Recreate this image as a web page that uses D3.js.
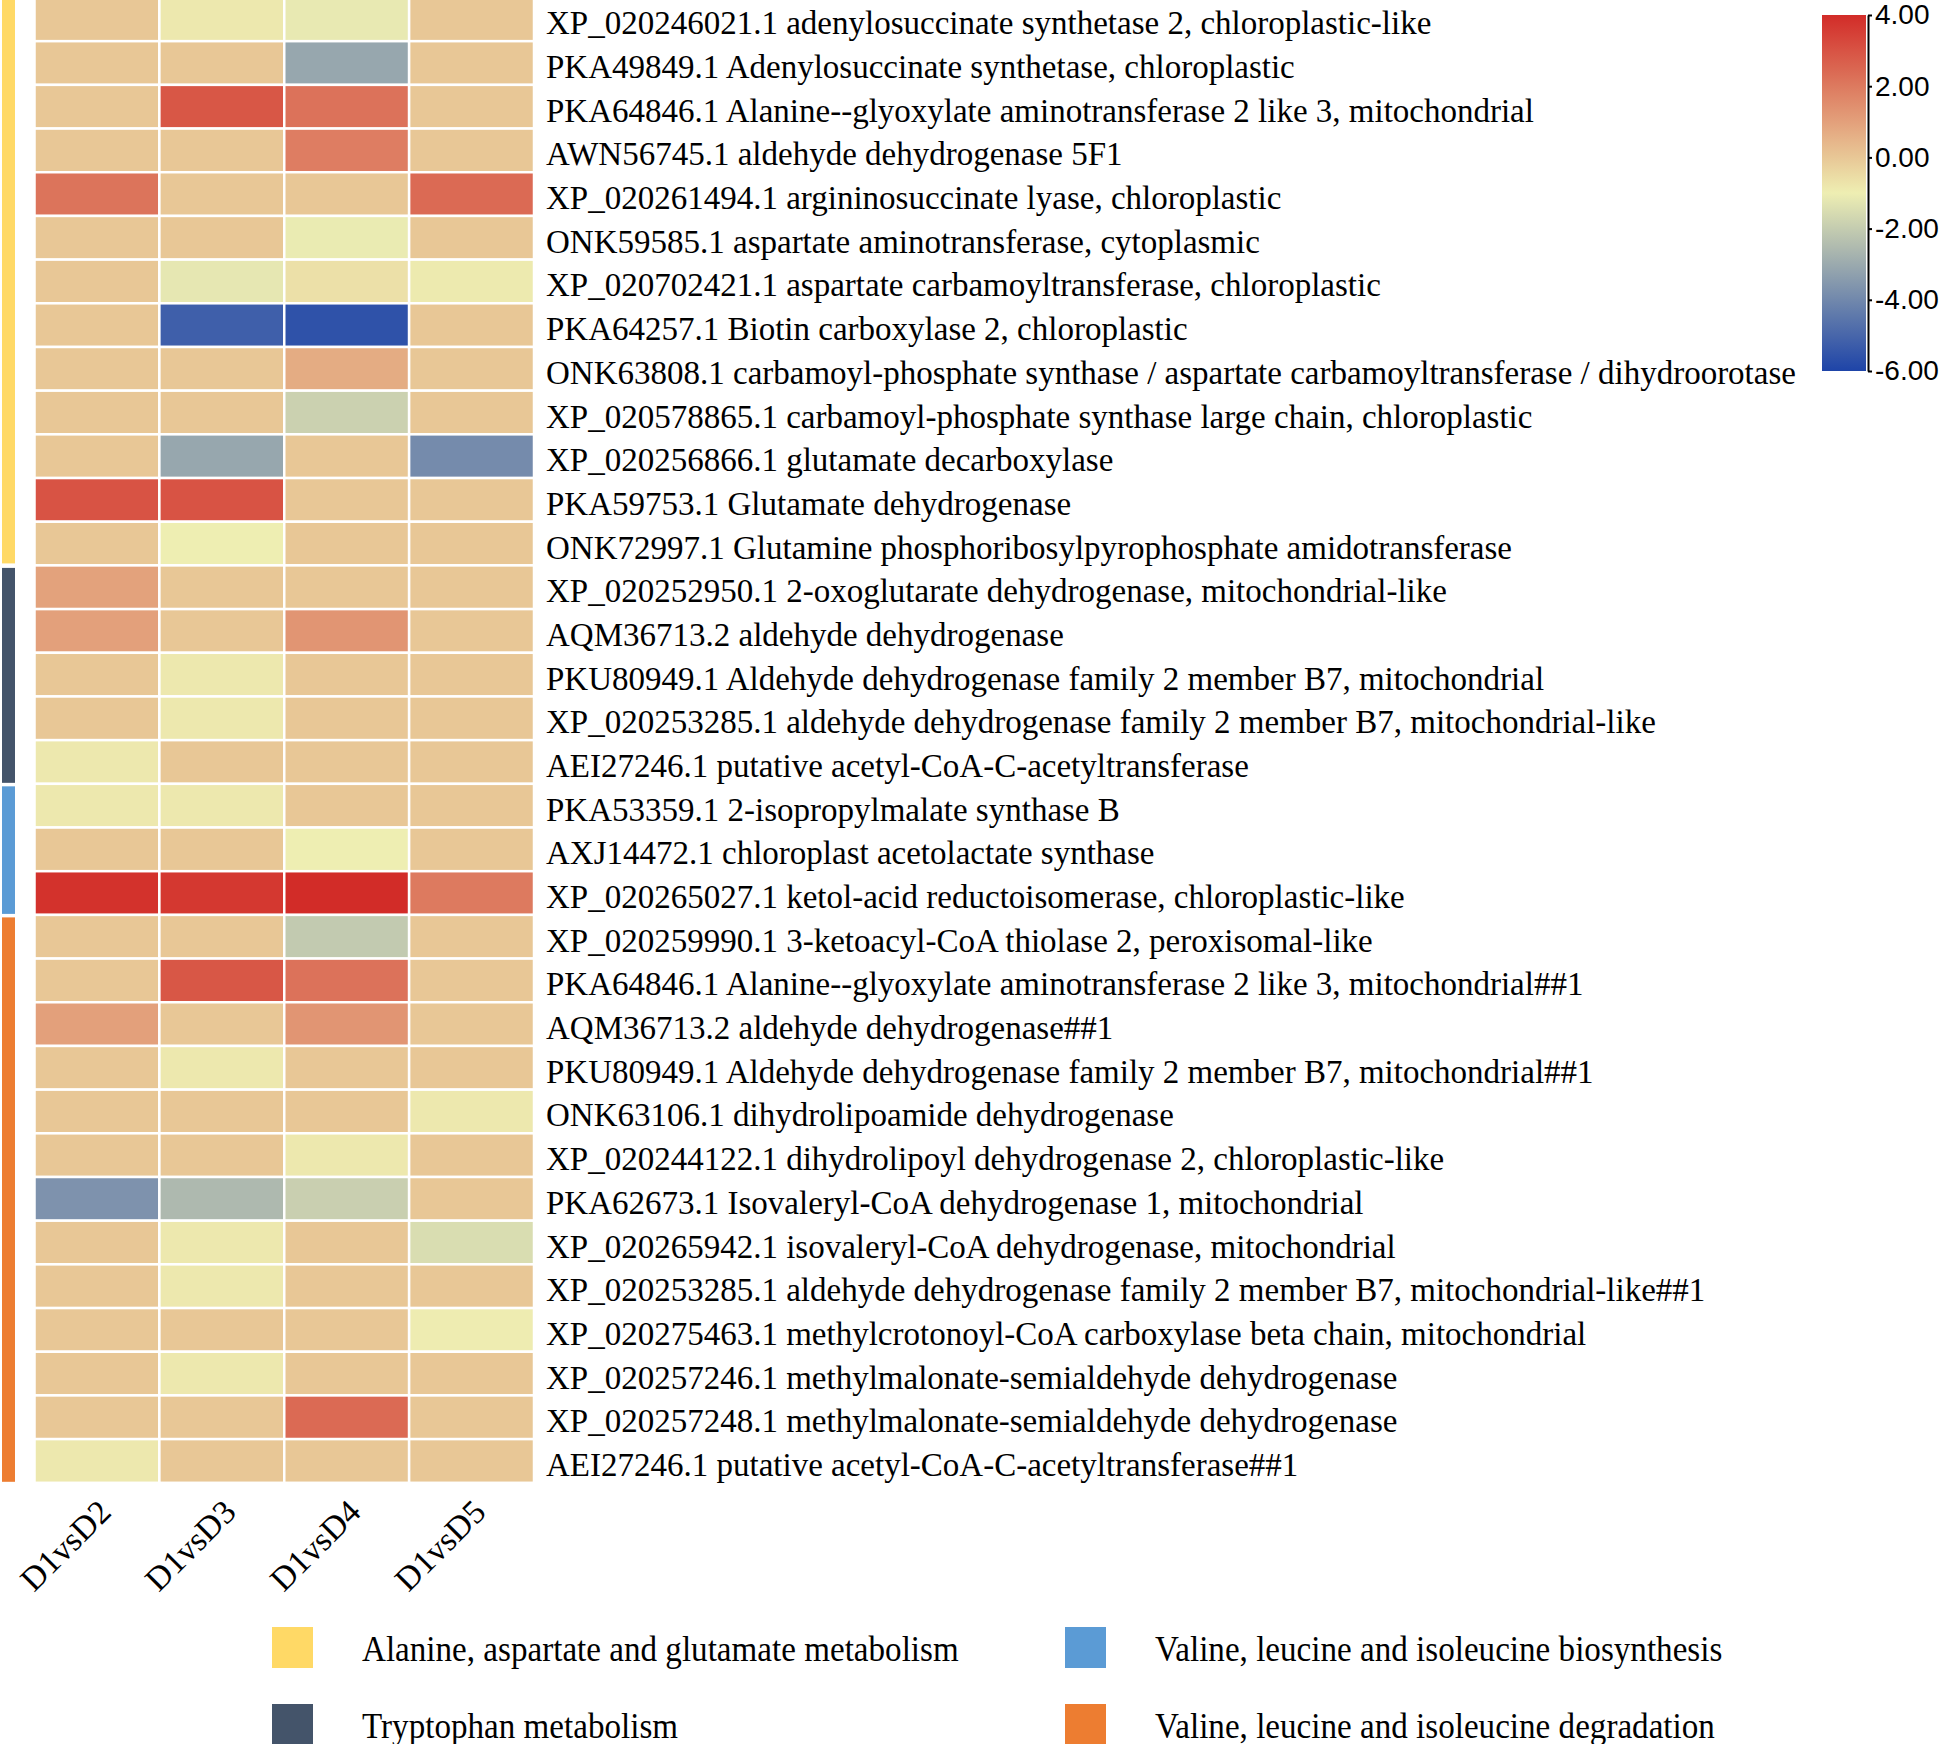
<!DOCTYPE html>
<html>
<head>
<meta charset="utf-8">
<script src="https://cdn.jsdelivr.net/npm/d3@7"></script>
<style>
  body { margin: 0; background: #fff; }
  svg { display: block; }
</style>
</head>
<body>
<svg id="chart" width="1946" height="1744"></svg>
<script>
// comparisons (heatmap columns)
const columns = ['D1vsD2', 'D1vsD3', 'D1vsD4', 'D1vsD5'];

// protein labels, top to bottom
const rowLabels = [
  'XP_020246021.1 adenylosuccinate synthetase 2, chloroplastic-like',
  'PKA49849.1 Adenylosuccinate synthetase, chloroplastic',
  'PKA64846.1 Alanine--glyoxylate aminotransferase 2 like 3, mitochondrial',
  'AWN56745.1 aldehyde dehydrogenase 5F1',
  'XP_020261494.1 argininosuccinate lyase, chloroplastic',
  'ONK59585.1 aspartate aminotransferase, cytoplasmic',
  'XP_020702421.1 aspartate carbamoyltransferase, chloroplastic',
  'PKA64257.1 Biotin carboxylase 2, chloroplastic',
  'ONK63808.1 carbamoyl-phosphate synthase / aspartate carbamoyltransferase / dihydroorotase',
  'XP_020578865.1 carbamoyl-phosphate synthase large chain, chloroplastic',
  'XP_020256866.1 glutamate decarboxylase',
  'PKA59753.1 Glutamate dehydrogenase',
  'ONK72997.1 Glutamine phosphoribosylpyrophosphate amidotransferase',
  'XP_020252950.1 2-oxoglutarate dehydrogenase, mitochondrial-like',
  'AQM36713.2 aldehyde dehydrogenase',
  'PKU80949.1 Aldehyde dehydrogenase family 2 member B7, mitochondrial',
  'XP_020253285.1 aldehyde dehydrogenase family 2 member B7, mitochondrial-like',
  'AEI27246.1 putative acetyl-CoA-C-acetyltransferase',
  'PKA53359.1 2-isopropylmalate synthase B',
  'AXJ14472.1 chloroplast acetolactate synthase',
  'XP_020265027.1 ketol-acid reductoisomerase, chloroplastic-like',
  'XP_020259990.1 3-ketoacyl-CoA thiolase 2, peroxisomal-like',
  'PKA64846.1 Alanine--glyoxylate aminotransferase 2 like 3, mitochondrial##1',
  'AQM36713.2 aldehyde dehydrogenase##1',
  'PKU80949.1 Aldehyde dehydrogenase family 2 member B7, mitochondrial##1',
  'ONK63106.1 dihydrolipoamide dehydrogenase',
  'XP_020244122.1 dihydrolipoyl dehydrogenase 2, chloroplastic-like',
  'PKA62673.1 Isovaleryl-CoA dehydrogenase 1, mitochondrial',
  'XP_020265942.1 isovaleryl-CoA dehydrogenase, mitochondrial',
  'XP_020253285.1 aldehyde dehydrogenase family 2 member B7, mitochondrial-like##1',
  'XP_020275463.1 methylcrotonoyl-CoA carboxylase beta chain, mitochondrial',
  'XP_020257246.1 methylmalonate-semialdehyde dehydrogenase',
  'XP_020257248.1 methylmalonate-semialdehyde dehydrogenase',
  'AEI27246.1 putative acetyl-CoA-C-acetyltransferase##1'
];

// log2 fold change per comparison, same order as rowLabels
const valuesD1vsD2 = [0, 0, 0, 0, 2.15, 0, 0, 0, 0, 0, 0, 3.0, 0,
  0.95, 1.0, 0, 0, -0.85, -0.85, 0, 3.85,
  0, 0, 1.0, 0, 0, 0, -3.7, 0, 0, 0, 0, 0, -0.85];
const valuesD1vsD3 = [-0.85, 0, 2.9, 0, 0, 0, -1.2, -5.2, 0, 0, -3.1, 3.0, -1.0,
  0, 0, -0.85, -0.85, 0, -0.85, 0, 3.7,
  0, 2.9, 0, -0.85, 0, 0, -2.55, -0.85, -0.85, 0, -0.85, 0, 0];
const valuesD1vsD4 = [-1.15, -3.1, 2.2, 1.9, 0, -1.1, -0.65, -5.6, 0.7, -1.85, 0, 0, 0,
  0, 1.3, 0, 0, 0, 0, -1.0, 4.0,
  -2.05, 2.2, 1.3, 0, 0, -0.85, -1.9, 0, 0, 0, 0, 2.4, 0];
const valuesD1vsD5 = [0, 0, 0, 0, 2.4, 0, -0.9, 0, 0, 0, -3.9, 0, 0,
  0, 0, 0, 0, 0, 0, 0, 2.0,
  0, 0, 0, 0, -0.85, 0, 0, -1.5, 0, -0.95, 0, 0, 0];
const seriesValues = [valuesD1vsD2, valuesD1vsD3, valuesD1vsD4, valuesD1vsD5];

// pathway groups (consecutive rows)
const groupNames = [
  'Alanine, aspartate and glutamate metabolism',
  'Tryptophan metabolism',
  'Valine, leucine and isoleucine biosynthesis',
  'Valine, leucine and isoleucine degradation'
];
const groupSizes = [13, 5, 3, 13];
const groupColors = ['#ffd966', '#44546a', '#5b9bd5', '#ed7d31'];

// colour bar
const colorDomain = [-6, -1, 4];
const colorRange = ['#1e44a8', '#eeeeb2', '#d22c28'];
const colorbarTicks = [-6, -4, -2, 0, 2, 4];

const svg = d3.select('#chart');
svg.append('rect').attr('width', 1946).attr('height', 1744).attr('fill', '#fff');

const x = d3.scaleBand().domain(d3.range(columns.length)).range([34.5, 534]);
const y = d3.scaleBand().domain(d3.range(rowLabels.length)).range([-2.5, 1482.8]);
const color = d3.scaleLinear().domain(colorDomain).range(colorRange)
    .interpolate(d3.interpolateRgb).clamp(true);

// heatmap cells
const cells = [];
seriesValues.forEach(function(vals, j) {
  vals.forEach(function(v, i) {
    cells.push({row: i, col: j, value: v});
  });
});

svg.append('g').selectAll('rect').data(cells)
    .enter().append('rect')
    .attr('x', function(d) { return x(d.col); })
    .attr('y', function(d) { return y(d.row); })
    .attr('width', x.bandwidth())
    .attr('height', y.bandwidth())
    .attr('fill', function(d) { return color(d.value); })
    .attr('stroke', '#fff')
    .attr('stroke-width', 2.5);

// row labels
svg.append('g').selectAll('text').data(rowLabels)
    .enter().append('text')
    .attr('x', 546)
    .attr('y', function(d, i) { return y(i) + y.bandwidth() / 2 + 15; })
    .attr('font-family', '"Liberation Serif", "Times New Roman", serif')
    .attr('font-size', 33)
    .attr('fill', '#000')
    .text(function(d) { return d; });

// column labels, rotated
svg.append('g').selectAll('text').data(columns)
    .enter().append('text')
    .attr('transform', function(d, j) {
      return 'translate(' + (x(j) + x.bandwidth() / 2 + 16) + ',' + 1514 + ') rotate(-45)';
    })
    .attr('text-anchor', 'end')
    .attr('font-family', '"Liberation Serif", "Times New Roman", serif')
    .attr('font-size', 33.5)
    .attr('fill', '#000')
    .text(function(d) { return d; });

// group side bar
let start = 0;
const groupSpans = groupSizes.map(function(n, k) {
  const span = {start: start, size: n, color: groupColors[k]};
  start += n;
  return span;
});
svg.append('g').selectAll('rect').data(groupSpans)
    .enter().append('rect')
    .attr('x', 2)
    .attr('width', 13)
    .attr('y', function(d) { return y(d.start) + (d.start === 0 ? 0 : 2.5); })
    .attr('height', function(d) { return d.size * y.step() - (d.start === 0 ? 2 : 3.5); })
    .attr('fill', function(d) { return d.color; });

// colour bar with gradient
const cbar = {x: 1822, w: 44, top: 15, bottom: 371};
const cScale = d3.scaleLinear().domain([colorDomain[0], colorDomain[2]]).range([cbar.bottom, cbar.top]);
const defs = svg.append('defs');
const grad = defs.append('linearGradient').attr('id', 'cbarGrad')
    .attr('x1', 0).attr('y1', 1).attr('x2', 0).attr('y2', 0);
d3.range(0, 1.0001, 0.05).forEach(function(t) {
  const v = colorDomain[0] + t * (colorDomain[2] - colorDomain[0]);
  grad.append('stop').attr('offset', t).attr('stop-color', color(v));
});
svg.append('rect')
    .attr('x', cbar.x).attr('y', cbar.top)
    .attr('width', cbar.w).attr('height', cbar.bottom - cbar.top)
    .attr('fill', 'url(#cbarGrad)');

const cAxis = svg.append('g')
    .attr('transform', 'translate(' + (cbar.x + cbar.w + 2) + ',0)')
    .call(d3.axisRight(cScale)
        .tickValues(colorbarTicks)
        .tickSize(4)
        .tickSizeOuter(0)
        .tickPadding(3)
        .tickFormat(function(d) { return d.toFixed(2); }));
cAxis.select('.domain').attr('stroke', '#000').attr('stroke-width', 2);
cAxis.selectAll('.tick line').attr('stroke', '#000').attr('stroke-width', 2);
cAxis.selectAll('.tick text')
    .attr('font-family', '"Liberation Sans", Arial, sans-serif')
    .attr('font-size', 28)
    .attr('fill', '#000');

// legend: two columns, two rows (column-major)
const legend = svg.append('g').selectAll('g').data(groupNames)
    .enter().append('g')
    .attr('transform', function(d, k) {
      const col = Math.floor(k / 2);
      const row = k % 2;
      return 'translate(' + (272 + col * 793) + ',' + (1627 + row * 77) + ')';
    });
legend.append('rect')
    .attr('width', 41).attr('height', 41)
    .attr('fill', function(d, k) { return groupColors[k]; });
legend.append('text')
    .attr('transform', 'translate(90,34) scale(0.92,1)')
    .attr('font-family', '"Liberation Serif", "Times New Roman", serif')
    .attr('font-size', 36)
    .attr('fill', '#000')
    .text(function(d) { return d; });
</script>
</body>
</html>
